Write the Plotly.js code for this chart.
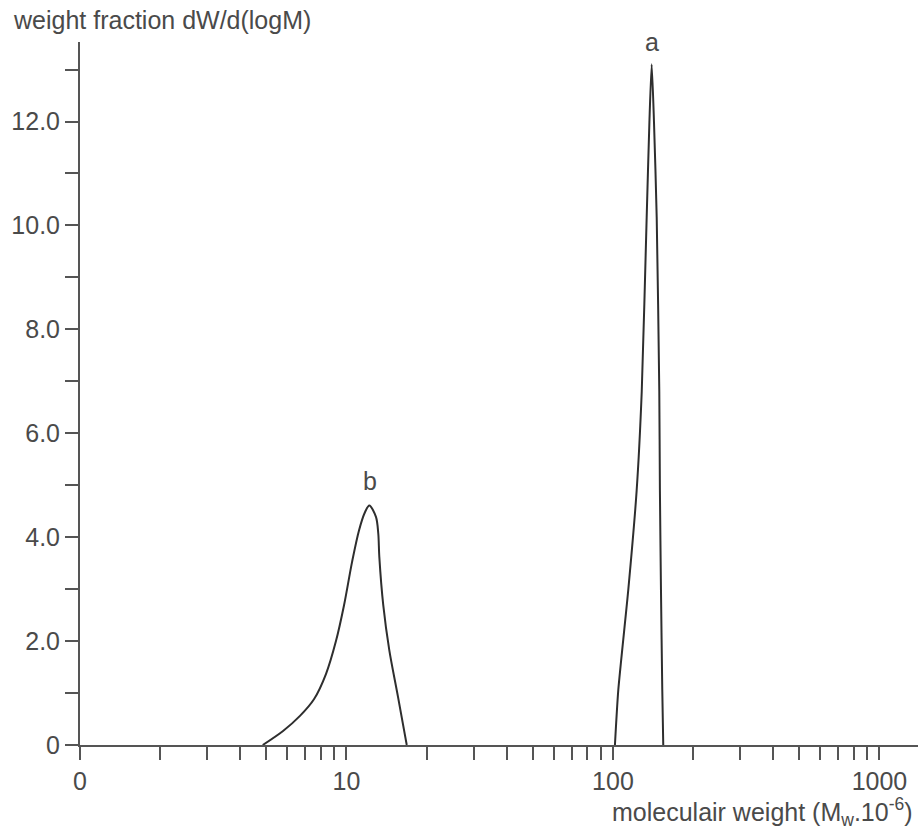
<!DOCTYPE html>
<html>
<head>
<meta charset="utf-8">
<script src="https://cdn.plot.ly/plotly-3.0.1.min.js"></script>
<style>html,body{margin:0;padding:0;background:#fff;}#chart{width:922px;height:831px;}</style>
</head>
<body>
<div id="chart"></div>
<script>
// Peak b (molecular weight x10^6, dW/dlogM)
const bX = [4.85, 5.78, 6.69, 7.55, 8.38, 9.13, 9.79, 10.49, 11.14, 11.73, 12.18, 12.90, 13.16, 13.28, 13.74, 14.47, 15.6, 16.83];
const bY = [0, 0.27, 0.56, 0.88, 1.37, 2.0, 2.69, 3.52, 4.13, 4.48, 4.61, 4.39, 4.07, 3.62, 2.69, 1.83, 0.93, 0];
// Peak a
const aX = [101.7, 104.7, 114.1, 122.7, 128.2, 133.8, 137.0, 139.7, 142.5, 145.9, 149.2, 150.0, 151.4, 153.1, 154.4];
const aY = [0, 1.06, 2.98, 4.9, 6.8, 10.16, 12.0, 13.1, 12.0, 10.16, 6.8, 4.9, 2.98, 1.06, 0];

const xTickVals = [1, 10, 100, 1000];
const xTickText = ['0', '10', '100', '1000'];
const yTickVals = [0, 2, 4, 6, 8, 10, 12];
const yTickText = ['0', '2.0', '4.0', '6.0', '8.0', '10.0', '12.0'];

const peakLabels = [{text:'a', x:140.5, y:13.22}, {text:'b', x:12.25, y:4.78}];

const fontFam = 'Liberation Sans, Arial, Helvetica, sans-serif';
const txtCol = '#4a4a4a';
const lineCol = '#2e2e2e';

const traces = [
  {x:bX, y:bY, mode:'lines', line:{color:lineCol, width:2, shape:'spline', smoothing:0.9}, hoverinfo:'skip'},
  {x:aX, y:aY, mode:'lines', line:{color:lineCol, width:2, shape:'spline', smoothing:0.6}, hoverinfo:'skip'}
];

const annotations = peakLabels.map(p => ({
  text:p.text, x:Math.log10(p.x), y:p.y, xref:'x', yref:'y', showarrow:false,
  yanchor:'bottom', font:{family:fontFam, size:25, color:txtCol}
}));
annotations.push({
  text:'weight fraction dW/d(logM)', xref:'paper', yref:'paper', x:-0.082, y:1.0, xanchor:'left', yanchor:'bottom',
  yshift:6, showarrow:false, font:{family:fontFam, size:25, color:txtCol}
});
annotations.push({
  text:'moleculair weight (M<sub>w</sub>.10<sup>-6</sup>)', xref:'paper', yref:'paper', x:1.0, y:0, xanchor:'right', yanchor:'top',
  yshift:-47, xshift:-3, showarrow:false, font:{family:fontFam, size:25, color:txtCol}
});

const layout = {
  width:922, height:831,
  margin:{l:80, r:4, t:42, b:86},
  paper_bgcolor:'#fff', plot_bgcolor:'#fff',
  showlegend:false,
  xaxis:{
    type:'log', range:[0, Math.log10(1395)],
    tickmode:'array', tickvals:xTickVals, ticktext:xTickText,
    ticks:'outside', ticklen:13, tickwidth:2, tickcolor:'#555',
    minor:{dtick:'D1', ticks:'outside', ticklen:13, tickwidth:2, tickcolor:'#555', showgrid:false},
    showline:true, linecolor:'#555', linewidth:2,
    showgrid:false, zeroline:false,
    tickfont:{family:fontFam, size:25, color:txtCol}
  },
  yaxis:{
    range:[0, 13.53],
    tickmode:'array', tickvals:yTickVals, ticktext:yTickText,
    ticks:'outside', ticklen:13, tickwidth:2, tickcolor:'#555',
    minor:{dtick:1, tick0:0, ticks:'outside', ticklen:13, tickwidth:2, tickcolor:'#555', showgrid:false},
    showline:true, linecolor:'#555', linewidth:2,
    showgrid:false, zeroline:false,
    tickfont:{family:fontFam, size:25, color:txtCol}
  },
  annotations:annotations
};

Plotly.newPlot('chart', traces, layout, {displayModeBar:false, staticPlot:true});
</script>
</body>
</html>
